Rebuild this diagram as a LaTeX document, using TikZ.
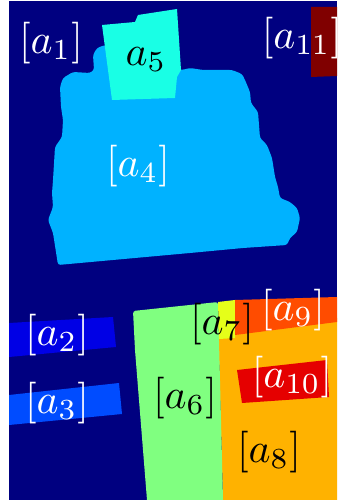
\documentclass[tikz,border=0pt]{standalone}
\usepackage{amsmath,amssymb}
\definecolor{jetA}{rgb}{0,0,0.5}
\definecolor{jetB}{rgb}{0,0,0.9}
\definecolor{jetC}{rgb}{0,0.3,1}
\definecolor{jetD}{rgb}{0,0.7,1}
\definecolor{jetE}{rgb}{0.1,1,0.9}
\definecolor{jetF}{rgb}{0.5,1,0.5}
\definecolor{jetG}{rgb}{0.9,1,0.1}
\definecolor{jetH}{rgb}{1,0.7,0}
\definecolor{jetI}{rgb}{1,0.3,0}
\definecolor{jetJ}{rgb}{0.9,0,0}
\definecolor{jetK}{rgb}{0.5,0,0}

\begin{document}
\begin{tikzpicture}[x=0.24pt,y=-0.24pt,
  seg/.style={inner sep=0pt},
  wlbl/.style={seg,text=white},
  blbl/.style={seg,text=black}]
\useasboundingbox (0,0) rectangle (337,500);
\fill[jetA] (9,1) rectangle (337,500);
\fill[jetK] (311,7) -- (337,7) -- (337,76) -- (311,77) -- cycle;
\fill[jetD, rounded corners=0.6pt] (105,45) -- (140,60) -- (182,70) -- (190,68) -- (203,70) -- (232,70) -- (242,74) -- (245,80) -- (250,92) -- (251,103) -- (258,112) -- (260,138) -- (267,145) -- (272,158) -- (275,177) -- (278,187) -- (280,198) -- (290,202) -- (297,208) -- (300,218) -- (297,232) -- (290,238) -- (287,245) -- (243,248) -- (190,253) -- (58,265) -- (53,233) -- (48,220) -- (53,207) -- (52,193) -- (53,180) -- (55,147) -- (62,137) -- (63,120) -- (61,107) -- (60,87) -- (63,78) -- (73,72) -- (90,73) -- (94,70) -- (93,55) -- (97,48) -- cycle;
\fill[jetE] (102,25) -- (135,22) -- (138,15) -- (177,9) -- (181,70) -- (177,77) -- (175,98) -- (112,100) -- cycle;
\fill[jetB] (9,323) -- (113,317) -- (116,347) -- (9,357) -- cycle;
\fill[jetC] (9,395) -- (119,383) -- (122,414) -- (9,425) -- cycle;
\fill[jetH] (218,320) -- (337,318) -- (337,500) -- (223,500) -- cycle;
\fill[jetF] (147,500) -- (135,350) [rounded corners=0.6pt] -- (133,311) -- (218,302) [sharp corners] -- (223,500) -- cycle;
\fill[jetG] (218,302) -- (235,300) -- (235,338) -- (219,339) -- cycle;
\fill[jetI] (235,300) -- (337,297) -- (337,322) -- (235,335) -- cycle;
\fill[jetJ] (237,370) -- (327,360) -- (329,397) -- (242,403) -- cycle;
\foreach \n/\t/\s/\x/\y in {a1/[a_1]/wlbl/51/43, a11/[a_{11}]/wlbl/302/38, a4/[a_4]/wlbl/138/166,
    a2/[a_2]/wlbl/57/335, a3/[a_3]/wlbl/57/403, a6/[a_6]/blbl/185/398, a7/[a_7]/blbl/222/324,
    a9/[a_9]/wlbl/293/310, a10/[a_{10}]/wlbl/292/377, a8/[a_8]/blbl/269/452}
  \node[\s] (\n) at (\x,\y) {$\t$};
\node[blbl, anchor=base] (a5) at (146,65.5) {$a_5$};
\end{tikzpicture}
\end{document}
